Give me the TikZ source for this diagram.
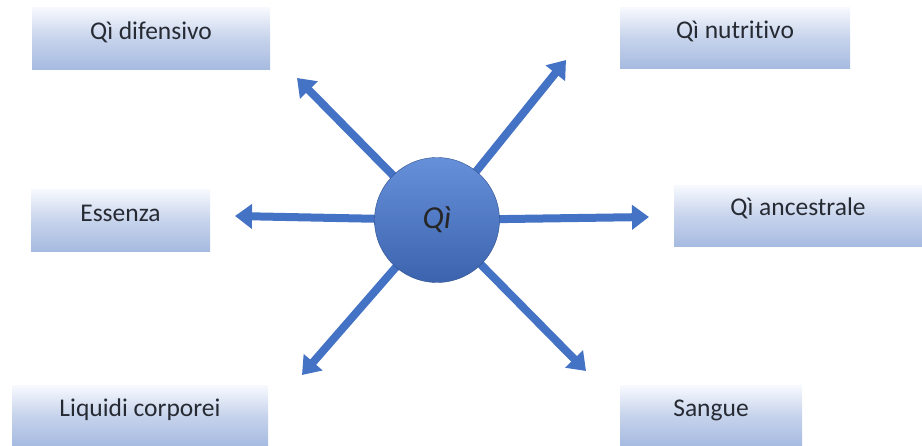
\documentclass[tikz,border=0pt]{standalone}
\usepackage{fontspec}
\setmainfont{Carlito}[Ligatures=NoCommon]
\usetikzlibrary{arrows.meta}
\definecolor{qblue}{HTML}{4472C4}
\definecolor{qdark}{HTML}{3B63AE}
\definecolor{qlight}{HTML}{6790DA}
\definecolor{boxbot}{HTML}{A6BAE0}
\definecolor{boxtop}{HTML}{F6F8FD}
\definecolor{txt}{HTML}{262A33}
\tikzset{
  lbox/.style={rectangle, inner sep=0pt, top color=boxtop, bottom color=boxbot, middle color=boxtop!40!boxbot},
  lbl/.style={text=txt, font=\fontsize{25.5}{28}\selectfont, inner sep=0pt},
  ray/.style={draw=qblue, line width=8pt, -{Triangle[width=24pt,length=17pt]}},
}
\begin{document}
\begin{tikzpicture}[x=1pt,y=-1pt]
\useasboundingbox (0,0) rectangle (922,446);
% boxes
\node[lbox, minimum width=238pt, minimum height=62pt] (dif) at (151,39) {};
\node[lbl] at ([yshift=7pt]dif.center) {Qì difensivo};
\node[lbox, minimum width=230pt, minimum height=61pt] (nut) at (735,38.5) {};
\node[lbl] at ([yshift=7pt]nut.center) {Qì nutritivo};
\node[lbox, minimum width=179pt, minimum height=62pt] (ess) at (120.5,221) {};
\node[lbl] at ([yshift=8pt]ess.center) {Essenza};
\node[lbox, minimum width=248pt, minimum height=61pt] (anc) at (798,216.5) {};
\node[lbl] at ([yshift=8pt]anc.center) {Qì ancestrale};
\node[lbox, minimum width=256pt, minimum height=60pt] (liq) at (140,416) {};
\node[lbl] at ([yshift=6pt]liq.center) {Liquidi corporei};
\node[lbox, minimum width=182pt, minimum height=60pt] (san) at (711,416) {};
\node[lbl] at ([yshift=6pt]san.center) {Sangue};
% arrow endpoints
\coordinate (c) at (437,220);
\coordinate (tNW) at (297,78);
\coordinate (tNE) at (566,60);
\coordinate (tW) at (235,216);
\coordinate (tE) at (649,217);
\coordinate (tSW) at (302,375);
\coordinate (tSE) at (586,371);
\draw[ray] (c) -- (tNW);
\draw[ray] (c) -- (tNE);
\draw[ray] (c) -- (tW);
\draw[ray] (c) -- (tE);
\draw[ray] (c) -- (tSW);
\draw[ray] (c) -- (tSE);
% central circle
\node[circle, minimum size=125pt, inner sep=0pt, top color=qlight, bottom color=qdark, draw=qdark!80!black, line width=0.4pt, font=\fontsize{32}{36}\selectfont\itshape, text=black!85] (qi) at (c) {Qì};
\end{tikzpicture}
\end{document}
